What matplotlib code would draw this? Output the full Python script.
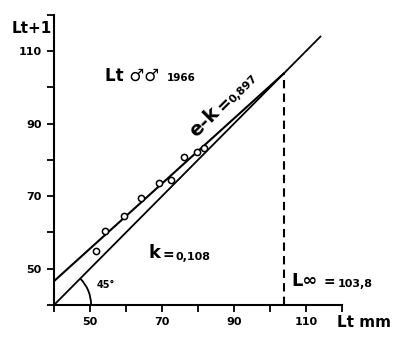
import numpy as np
import matplotlib
matplotlib.use("Agg")
import matplotlib.pyplot as plt
from matplotlib.patches import Arc

# === Daten ===
lt = [51.7, 54.3, 59.4, 64.1, 69.2, 72.5, 76.2, 79.8, 81.7]
lt1 = [55.0, 60.4, 64.6, 69.6, 73.7, 74.5, 80.7, 82.3, 83.4]
slope = 0.897
k_value = 0.108
l_inf = 103.8
ticks = [40, 50, 60, 70, 80, 90, 100, 110, 120]
tick_labels = ['', '50', '', '70', '', '90', '', '110', '']

plt.rcParams['font.family'] = 'DejaVu Sans'
plt.rcParams['font.weight'] = 'bold'

fig = plt.figure(figsize=(4, 3.45), dpi=100)
ax = fig.add_axes([0.135, 0.116, 0.72, 0.841])
ax.set_xlim(40, 120)
ax.set_ylim(40, 120)

# === Linien ===
intercept = l_inf * (1 - slope)
xr = np.array([40, l_inf])
ax.plot(xr, intercept + slope * xr, color='black', lw=1.5)
ax.plot([40, 114], [40, 114], color='black', lw=1.3)
ax.plot([l_inf, l_inf], [40, l_inf], color='black', lw=1.5, linestyle=(0, (4, 2.5)))
ax.scatter(lt, lt1, s=20, facecolors='white', edgecolors='black', linewidths=1.1, zorder=3)

arc = Arc((40, 40), 20.6, 20.6, theta1=0, theta2=45, color='black', lw=1.3)
ax.add_patch(arc)

# === Achsen ===
for s in ['top', 'right']:
    ax.spines[s].set_visible(False)
for s in ['left', 'bottom']:
    ax.spines[s].set_linewidth(1.5)
ax.set_xticks(ticks)
ax.set_xticklabels(tick_labels, fontsize=8, fontweight='bold')
ax.set_yticks(ticks)
ax.set_yticklabels(tick_labels, fontsize=8, fontweight='bold')
ax.tick_params(length=5, width=1.3, pad=4)

# === Texte ===
fig.text(0.03, 0.905, 'Lt+1', fontsize=11, fontweight='bold')
ax.text(54.3, 103.2, 'Lt \u2642\u2642', fontsize=12, fontweight='bold', va='center')
ax.text(71.2, 102.6, '1966', fontsize=7.5, fontweight='bold', va='center')
ax.text(66.3, 54.2, 'k', fontsize=13, fontweight='bold', va='center')
ax.text(70.0, 53.9, '=', fontsize=10, fontweight='bold', va='center')
ax.text(73.7, 53.3, '0,108', fontsize=8, fontweight='bold', va='center')
ax.text(106.0, 46.6, 'L\u221e', fontsize=13, fontweight='bold', va='center', clip_on=False)
ax.text(114.9, 46.2, '=', fontsize=10, fontweight='bold', va='center', clip_on=False)
ax.text(118.7, 45.7, '103,8', fontsize=8, fontweight='bold', va='center', clip_on=False)
ax.text(118.5, 35.3, 'Lt mm', fontsize=11, fontweight='bold', va='center', clip_on=False)
ax.text(51.8, 45.6, '45°', fontsize=7, fontweight='bold', va='center')
ax.text(79.6, 86.0, 'e-k', fontsize=14, fontweight='bold', rotation=45,
        rotation_mode='anchor', va='baseline')
ax.text(87.0, 93.0, '=', fontsize=12, fontweight='bold', rotation=45,
        rotation_mode='anchor', va='baseline')
ax.text(89.8, 95.6, '0,897', fontsize=8, fontweight='bold', rotation=45,
        rotation_mode='anchor', va='baseline')

fig.savefig('out.png', dpi=100)
